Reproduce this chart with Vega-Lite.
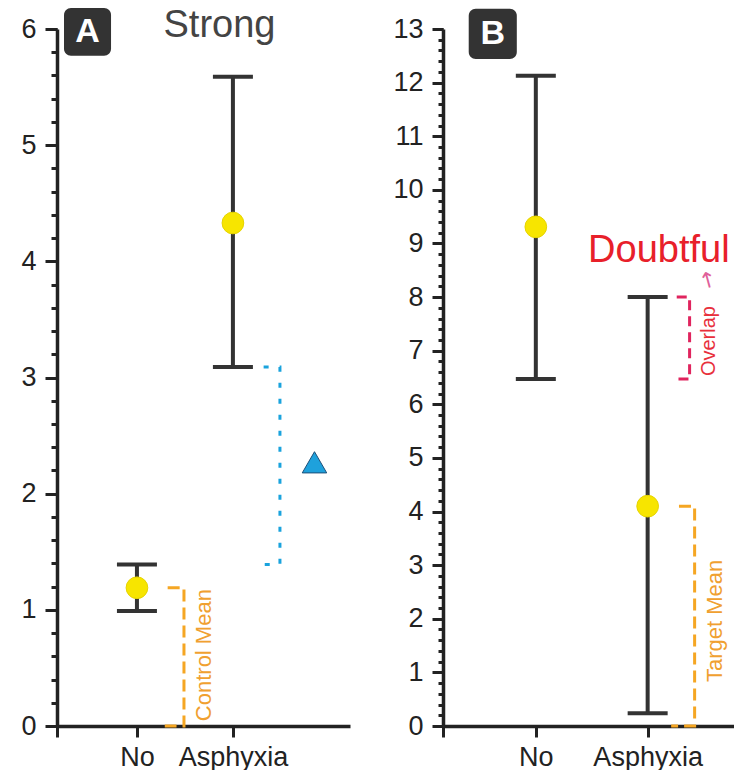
{
  "$schema": "https://vega.github.io/schema/vega-lite/v6.json",
  "padding": {"left": 20, "top": 6, "right": 0, "bottom": 0},
  "bounds": "flush",
  "spacing": 93,
  "config": {
    "view": {"stroke": null},
    "axis": {"domainColor": "#222", "domainWidth": 3.5, "tickColor": "#222", "tickWidth": 3, "labelColor": "#222", "labelFont": "Liberation Sans", "labelFontSize": 27, "grid": false, "labelOverlap": false, "labelFlush": false}
  },
  "datasets": {
    "barsA": [
      {"group": "No", "pos": 1, "mean": 1.19, "lo": 0.99, "hi": 1.39},
      {"group": "Asphyxia", "pos": 2, "mean": 4.33, "lo": 3.09, "hi": 5.59}
    ],
    "barsB": [
      {"group": "No", "pos": 1, "mean": 9.31, "lo": 6.47, "hi": 12.13},
      {"group": "Asphyxia", "pos": 2, "mean": 4.1, "lo": 0.24, "hi": 8.0}
    ],
    "gapA": [
      {"pos": 2.32, "val": 3.09, "o": 1},
      {"pos": 2.49, "val": 3.09, "o": 2},
      {"pos": 2.49, "val": 1.39, "o": 3},
      {"pos": 2.33, "val": 1.39, "o": 4}
    ],
    "controlA": [
      {"pos": 1.32, "val": 1.19, "o": 1},
      {"pos": 1.49, "val": 1.19, "o": 2},
      {"pos": 1.49, "val": 0, "o": 3},
      {"pos": 1.29, "val": 0, "o": 4}
    ],
    "overlapB": [
      {"pos": 2.26, "val": 8.0, "o": 1},
      {"pos": 2.375, "val": 8.0, "o": 2},
      {"pos": 2.375, "val": 6.47, "o": 3},
      {"pos": 2.26, "val": 6.47, "o": 4}
    ],
    "targetB": [
      {"pos": 2.28, "val": 4.1, "o": 1},
      {"pos": 2.42, "val": 4.1, "o": 2},
      {"pos": 2.42, "val": 0, "o": 3},
      {"pos": 2.21, "val": 0, "o": 4}
    ],
    "effectA": [{"pos": 2.85, "val": 2.27}],
    "badgeA": [{"label": "A", "x1": 0.24, "x2": 0.73, "y1": 5.77, "y2": 6.18, "cx": 0.485, "cy": 5.97}],
    "badgeB": [{"label": "B", "x1": 0.4, "x2": 0.83, "y1": 12.44, "y2": 13.38, "cx": 0.615, "cy": 12.9}],
    "notesA": [
      {"text": "Strong", "pos": 1.86, "val": 6.03, "kind": "title"},
      {"text": "Control Mean", "pos": 1.7, "val": 0.61, "kind": "vert"}
    ],
    "notesB": [
      {"text": "Doubtful", "pos": 2.1, "val": 8.86},
      {"text": "Overlap", "pos": 2.545, "val": 7.18},
      {"text": "Target Mean", "pos": 2.6, "val": 1.96},
      {"text": "→", "pos": 2.535, "val": 8.32}
    ]
  },
  "hconcat": [
    {
      "width": 293,
      "height": 697,
      "resolve": {"axis": {"y": "independent"}},
      "layer": [
        {
          "data": {"name": "barsA"},
          "mark": {"type": "rule", "color": "#333", "strokeWidth": 4},
          "encoding": {
            "x": {"field": "pos", "type": "quantitative", "scale": {"domain": [0.167, 3.22], "nice": false, "zero": false},
              "axis": {"title": null, "values": [0.167, 1, 2], "labelExpr": "datum.value == 1 ? 'No' : datum.value == 2 ? 'Asphyxia' : ''", "tickSize": 11, "labelPadding": 7, "labelOverlap": false}},
            "y": {"field": "lo", "type": "quantitative", "scale": {"domain": [0, 6], "nice": false, "zero": false},
              "axis": {"title": null, "orient": "left", "values": [0, 1, 2, 3, 4, 5, 6], "format": "d", "tickSize": 12, "labelPadding": 9, "labelOverlap": false}},
            "y2": {"field": "hi"}
          }
        },
        {
          "data": {"name": "barsA"},
          "mark": {"type": "point", "shape": "circle", "filled": true, "fill": "#f7e500", "stroke": "#e6d400", "strokeWidth": 1, "size": 470, "opacity": 1},
          "encoding": {"x": {"field": "pos", "type": "quantitative"},
            "y": {"field": "mean", "type": "quantitative", "axis": {"title": null, "orient": "left", "values": [0,0.2,0.4,0.6,0.8,1,1.2,1.4,1.6,1.8,2,2.2,2.4,2.6,2.8,3,3.2,3.4,3.6,3.8,4,4.2,4.4,4.6,4.8,5,5.2,5.4,5.6,5.8,6], "labels": false, "domain": false, "tickSize": 6}}}
        },
        {
          "data": {"name": "barsA"},
          "mark": {"type": "tick", "orient": "horizontal", "color": "#333", "size": 40, "thickness": 4, "opacity": 1},
          "encoding": {"x": {"field": "pos", "type": "quantitative"}, "y": {"field": "lo", "type": "quantitative", "axis": null}}
        },
        {
          "data": {"name": "barsA"},
          "mark": {"type": "tick", "orient": "horizontal", "color": "#333", "size": 40, "thickness": 4, "opacity": 1},
          "encoding": {"x": {"field": "pos", "type": "quantitative"}, "y": {"field": "hi", "type": "quantitative", "axis": null}}
        },
        {
          "data": {"name": "gapA"},
          "mark": {"type": "line", "color": "#1aa3dd", "strokeWidth": 3, "strokeDash": [5, 11]},
          "encoding": {"x": {"field": "pos", "type": "quantitative"}, "y": {"field": "val", "type": "quantitative", "axis": null}, "order": {"field": "o"}}
        },
        {
          "data": {"name": "controlA"},
          "mark": {"type": "line", "color": "#f5a623", "strokeWidth": 3, "strokeDash": [12, 6]},
          "encoding": {"x": {"field": "pos", "type": "quantitative"}, "y": {"field": "val", "type": "quantitative", "axis": null}, "order": {"field": "o"}}
        },
        {
          "data": {"name": "effectA"},
          "mark": {"type": "point", "shape": "triangle-up", "filled": true, "fill": "#1ea1dc", "stroke": "#1c4f78", "strokeWidth": 1, "size": 600, "opacity": 1},
          "encoding": {"x": {"field": "pos", "type": "quantitative"}, "y": {"field": "val", "type": "quantitative", "axis": null}}
        },
        {
          "data": {"name": "badgeA"},
          "mark": {"type": "rect", "fill": "#333", "cornerRadius": 7},
          "encoding": {"x": {"field": "x1", "type": "quantitative"}, "x2": {"field": "x2"}, "y": {"field": "y1", "type": "quantitative", "axis": null}, "y2": {"field": "y2"}}
        },
        {
          "data": {"name": "badgeA"},
          "mark": {"type": "text", "color": "white", "font": "Liberation Sans", "fontWeight": "bold", "fontSize": 34, "baseline": "middle", "align": "center"},
          "encoding": {"x": {"field": "cx", "type": "quantitative"}, "y": {"field": "cy", "type": "quantitative", "axis": null}, "text": {"field": "label"}}
        },
        {
          "data": {"name": "notesA"},
          "transform": [{"filter": "datum.kind == 'title'"}],
          "mark": {"type": "text", "color": "#444", "font": "Liberation Sans", "fontSize": 38, "baseline": "middle", "align": "center"},
          "encoding": {"x": {"field": "pos", "type": "quantitative"}, "y": {"field": "val", "type": "quantitative", "axis": null}, "text": {"field": "text"}}
        },
        {
          "data": {"name": "notesA"},
          "transform": [{"filter": "datum.kind == 'vert'"}],
          "mark": {"type": "text", "color": "#f0a030", "font": "Liberation Sans", "fontSize": 22, "angle": 270, "baseline": "middle", "align": "center"},
          "encoding": {"x": {"field": "pos", "type": "quantitative"}, "y": {"field": "val", "type": "quantitative", "axis": null}, "text": {"field": "text"}}
        }
      ]
    },
    {
      "width": 293,
      "height": 697,
      "resolve": {"axis": {"y": "independent"}},
      "layer": [
        {
          "data": {"name": "barsB"},
          "mark": {"type": "rule", "color": "#333", "strokeWidth": 4},
          "encoding": {
            "x": {"field": "pos", "type": "quantitative", "scale": {"domain": [0.17, 2.79], "nice": false, "zero": false},
              "axis": {"title": null, "values": [0.17, 1, 2], "labelExpr": "datum.value == 1 ? 'No' : datum.value == 2 ? 'Asphyxia' : ''", "tickSize": 11, "labelPadding": 7, "labelOverlap": false}},
            "y": {"field": "lo", "type": "quantitative", "scale": {"domain": [0, 13], "nice": false, "zero": false},
              "axis": {"title": null, "orient": "left", "values": [0,1,2,3,4,5,6,7,8,9,10,11,12,13], "format": "d", "tickSize": 11, "labelPadding": 9, "labelOverlap": false}},
            "y2": {"field": "hi"}
          }
        },
        {
          "data": {"name": "barsB"},
          "mark": {"type": "point", "shape": "circle", "filled": true, "fill": "#f7e500", "stroke": "#e6d400", "strokeWidth": 1, "size": 470, "opacity": 1},
          "encoding": {"x": {"field": "pos", "type": "quantitative"},
            "y": {"field": "mean", "type": "quantitative", "axis": {"title": null, "orient": "left", "values": [0,0.2,0.4,0.6,0.8,1,1.2,1.4,1.6,1.8,2,2.2,2.4,2.6,2.8,3,3.2,3.4,3.6,3.8,4,4.2,4.4,4.6,4.8,5,5.2,5.4,5.6,5.8,6,6.2,6.4,6.6,6.8,7,7.2,7.4,7.6,7.8,8,8.2,8.4,8.6,8.8,9,9.2,9.4,9.6,9.8,10,10.2,10.4,10.6,10.8,11,11.2,11.4,11.6,11.8,12,12.2,12.4,12.6,12.8,13], "labels": false, "domain": false, "tickSize": 5}}}
        },
        {
          "data": {"name": "barsB"},
          "mark": {"type": "tick", "orient": "horizontal", "color": "#333", "size": 40, "thickness": 4, "opacity": 1},
          "encoding": {"x": {"field": "pos", "type": "quantitative"}, "y": {"field": "lo", "type": "quantitative", "axis": null}}
        },
        {
          "data": {"name": "barsB"},
          "mark": {"type": "tick", "orient": "horizontal", "color": "#333", "size": 40, "thickness": 4, "opacity": 1},
          "encoding": {"x": {"field": "pos", "type": "quantitative"}, "y": {"field": "hi", "type": "quantitative", "axis": null}}
        },
        {
          "data": {"name": "overlapB"},
          "mark": {"type": "line", "color": "#e0245e", "strokeWidth": 3, "strokeDash": [10, 6]},
          "encoding": {"x": {"field": "pos", "type": "quantitative"}, "y": {"field": "val", "type": "quantitative", "axis": null}, "order": {"field": "o"}}
        },
        {
          "data": {"name": "targetB"},
          "mark": {"type": "line", "color": "#f5a623", "strokeWidth": 3, "strokeDash": [12, 6]},
          "encoding": {"x": {"field": "pos", "type": "quantitative"}, "y": {"field": "val", "type": "quantitative", "axis": null}, "order": {"field": "o"}}
        },
        {
          "data": {"name": "badgeB"},
          "mark": {"type": "rect", "fill": "#333", "cornerRadius": 7},
          "encoding": {"x": {"field": "x1", "type": "quantitative"}, "x2": {"field": "x2"}, "y": {"field": "y1", "type": "quantitative", "axis": null}, "y2": {"field": "y2"}}
        },
        {
          "data": {"name": "badgeB"},
          "mark": {"type": "text", "color": "white", "font": "Liberation Sans", "fontWeight": "bold", "fontSize": 34, "baseline": "middle", "align": "center"},
          "encoding": {"x": {"field": "cx", "type": "quantitative"}, "y": {"field": "cy", "type": "quantitative", "axis": null}, "text": {"field": "label"}}
        },
        {
          "data": {"name": "notesB"},
          "transform": [{"filter": "datum.text == 'Doubtful'"}],
          "mark": {"type": "text", "color": "#e8202a", "font": "Liberation Sans", "fontSize": 38, "baseline": "middle", "align": "center"},
          "encoding": {"x": {"field": "pos", "type": "quantitative"}, "y": {"field": "val", "type": "quantitative", "axis": null}, "text": {"field": "text"}}
        },
        {
          "data": {"name": "notesB"},
          "transform": [{"filter": "datum.text == 'Overlap'"}],
          "mark": {"type": "text", "color": "#e8303c", "font": "Liberation Sans", "fontSize": 20, "angle": 270, "baseline": "middle", "align": "center"},
          "encoding": {"x": {"field": "pos", "type": "quantitative"}, "y": {"field": "val", "type": "quantitative", "axis": null}, "text": {"field": "text"}}
        },
        {
          "data": {"name": "notesB"},
          "transform": [{"filter": "datum.text == '→'"}],
          "mark": {"type": "text", "color": "#e0609a", "font": "DejaVu Sans", "fontSize": 22, "angle": 255, "baseline": "middle", "align": "center"},
          "encoding": {"x": {"field": "pos", "type": "quantitative"}, "y": {"field": "val", "type": "quantitative", "axis": null}, "text": {"field": "text"}}
        },
        {
          "data": {"name": "notesB"},
          "transform": [{"filter": "datum.text == 'Target Mean'"}],
          "mark": {"type": "text", "color": "#f0a030", "font": "Liberation Sans", "fontSize": 22, "angle": 270, "baseline": "middle", "align": "center"},
          "encoding": {"x": {"field": "pos", "type": "quantitative"}, "y": {"field": "val", "type": "quantitative", "axis": null}, "text": {"field": "text"}}
        }
      ]
    }
  ]
}
